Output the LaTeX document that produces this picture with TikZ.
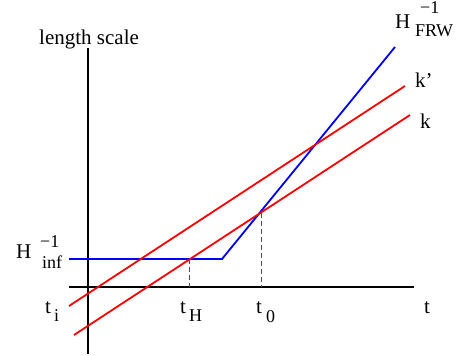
\documentclass[tikz,border=0pt]{standalone}
\usepackage{fontspec}
\setmainfont{Liberation Serif}
\begin{document}
\begin{tikzpicture}[x=1pt,y=-1pt,
  axis/.style={black,line width=1.2pt},
  bluel/.style={blue,line width=1.8pt},
  redl/.style={red,line width=1.8pt},
  guide/.style={black!70,dash pattern=on 5pt off 3pt,line width=1pt},
  lbl/.style={anchor=base west,inner sep=0pt,font=\fontsize{21}{23}\selectfont},
  sub/.style={anchor=base west,inner sep=0pt,font=\fontsize{18}{20}\selectfont}]
\useasboundingbox (0,0) rectangle (456,356);
% axes
\coordinate (vtop) at (88,48);
\coordinate (vbot) at (88,354);
\coordinate (hl) at (69,287);
\coordinate (hr) at (414,287);
\draw[axis] (vtop) -- (vbot);
\draw[axis] (hl) -- (hr);
% blue Hubble radius
\coordinate (b0) at (69,259);
\coordinate (b1) at (222,259);
\coordinate (b2) at (395,47);
\draw[bluel] (b0) -- (b1) -- (b2);
% red modes
\coordinate (kp0) at (69,306);
\coordinate (kp1) at (405,86);
\coordinate (k0) at (74,335);
\coordinate (k1) at (410,115);
\draw[redl] (kp0) -- (kp1);
\draw[redl] (k0) -- (k1);
% dashed guides
\coordinate (pH) at (189,259);
\coordinate (aH) at (189,287);
\coordinate (p0) at (261,212.5);
\coordinate (a0) at (261,287);
\draw[guide] (pH) -- (aH);
\draw[guide] (p0) -- (a0);
% labels
\node[lbl] (ls) at (39,44) {length scale};
\node[lbl] (ti) at (45,313) {t};
\node[sub] (tis) at (54,321) {i};
\node[lbl] (tH) at (180,313) {t};
\node[sub] (tHs) at (189,321) {H};
\node[lbl] (t0) at (256,313) {t};
\node[sub] (t0s) at (266,322) {0};
\node[lbl] (t) at (424,313) {t};
\node[lbl] (Hi) at (16,258) {H};
\node[sub] (Hisup) at (40,247) {−1};
\node[sub] (Hisub) at (42,268) {inf};
\node[lbl] (Hf) at (395,28) {H};
\node[sub] (Hfsup) at (420,13) {−1};
\node[sub] (Hfsub) at (415,37) {FRW};
\node[lbl] (kp) at (415,87) {k’};
\node[lbl] (k) at (420,128) {k};
\end{tikzpicture}
\end{document}
